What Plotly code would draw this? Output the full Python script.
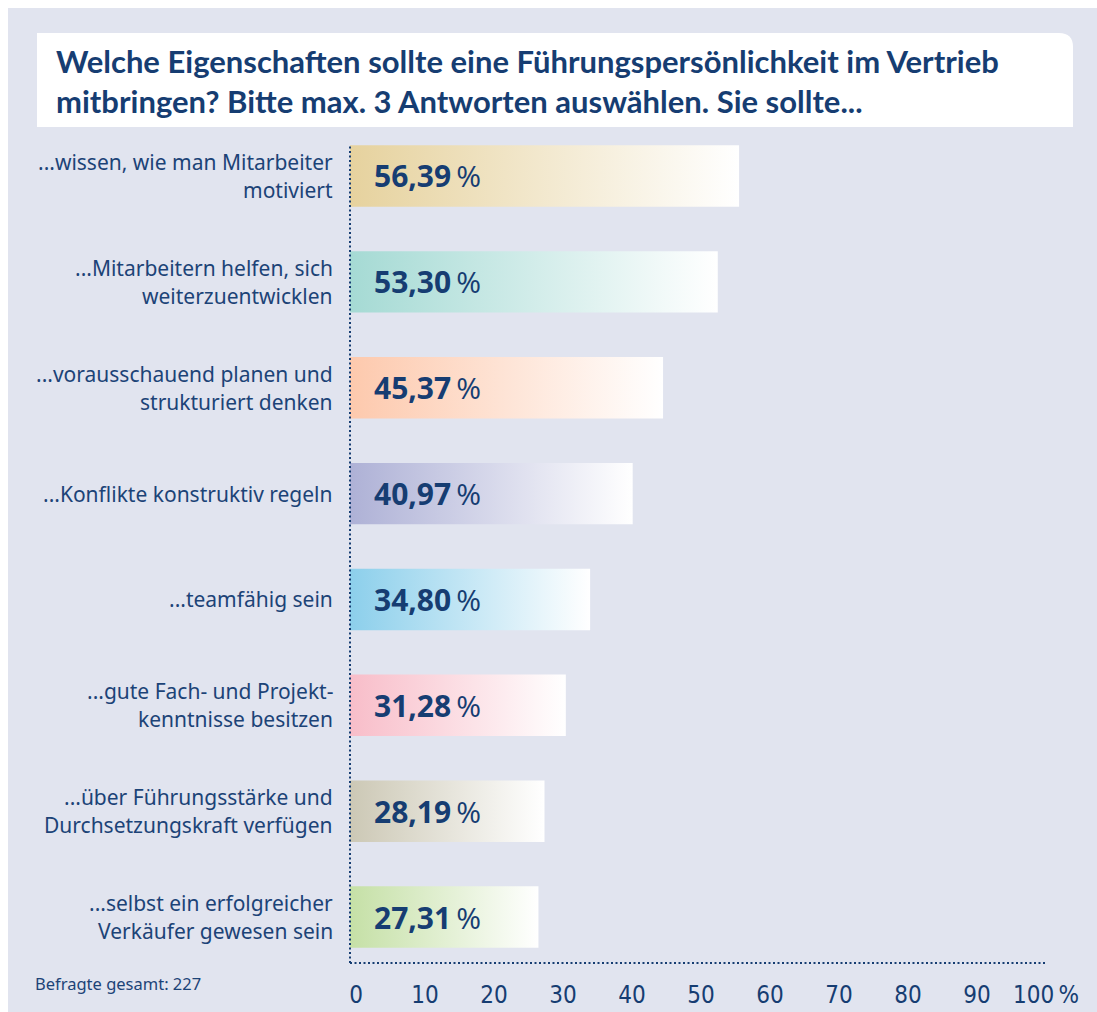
import plotly.graph_objects as go

# ---------------- data ----------------
categories = [
    "...wissen, wie man Mitarbeiter<br>motiviert",
    "...Mitarbeitern helfen, sich<br>weiterzuentwicklen",
    "...vorausschauend planen und<br>strukturiert denken",
    "...Konflikte konstruktiv regeln",
    "...teamfähig sein",
    "...gute Fach- und Projekt-<br>kenntnisse besitzen",
    "...über Führungsstärke und<br>Durchsetzungskraft verfügen",
    "...selbst ein erfolgreicher<br>Verkäufer gewesen sein",
]
values = [56.39, 53.30, 45.37, 40.97, 34.80, 31.28, 28.19, 27.31]
value_labels = ["56,39", "53,30", "45,37", "40,97", "34,80", "31,28", "28,19", "27,31"]
bar_colors = ["#e6d29e", "#a5dad4", "#fdc9ad", "#aeb1d6", "#8ccfeb", "#f8bdc9", "#ccc8b5", "#c5e0a6"]
x_tickvals = [0, 10, 20, 30, 40, 50, 60, 70, 80, 90, 100]
x_ticktext = ["0", "10", "20", "30", "40", "50", "60", "70", "80", "90", "100\u2009%"]
title_text = ("Welche Eigenschaften sollte eine Führungspersönlichkeit im Vertrieb<br>"
              "mitbringen? Bitte max. 3 Antworten auswählen. Sie sollte...")
note_text = "Befragte gesamt: 227"

# ---------------- layout geometry ----------------
W, H = 1097, 1012
ML, MR, MT, MB = 350, 57, 140, 49
PW, PH = W - ML - MR, H - MT - MB

def px(xp):
    return (xp - ML) / PW

def py(yp):
    return (H - MB - yp) / PH

NAVY = "#163d72"
TEXT = "#1c4377"
BG = "#e1e4ef"
n = len(categories)
half = 0.29

fig = go.Figure()

for i, (v, c) in enumerate(zip(values, bar_colors)):
    yc = n - 1 - i
    fig.add_trace(go.Scatter(
        x=[0, v, v, 0, 0],
        y=[yc - half, yc - half, yc + half, yc + half, yc - half],
        mode="none",
        fill="toself",
        fillgradient=dict(type="horizontal", colorscale=[[0, c], [1, "#ffffff"]]),
        hoverinfo="skip",
        showlegend=False,
    ))

annotations = []
# value labels
for i, lab in enumerate(value_labels):
    yc = n - 1 - i
    annotations.append(dict(
        x=0, y=yc, xref="x", yref="y", xanchor="left", yanchor="middle",
        xshift=22, showarrow=False,
        text=f"<b>{lab}</b>\u2009%",
        font=dict(family="Open Sans, Noto Sans, sans-serif", size=30, color=NAVY),
    ))
# category labels (one annotation per line for line spacing control)
line_gap = 28
for i, cat in enumerate(categories):
    yc = n - 1 - i
    lines = cat.split("<br>")
    k = len(lines)
    for j, ln in enumerate(lines):
        off = ((k - 1) / 2 - j) * line_gap
        annotations.append(dict(
            x=px(335), y=yc, xref="paper", yref="y", xanchor="right", yanchor="middle",
            yshift=off, showarrow=False, text=ln,
            font=dict(family="Noto Sans, sans-serif", size=21, color=TEXT),
        ))
# title
annotations.append(dict(
    x=px(54), y=py(40), xref="paper", yref="paper", xanchor="left", yanchor="top",
    showarrow=False, align="left", text=f"<b>{title_text}</b>",
    font=dict(family="Lato, sans-serif", size=31, color=NAVY),
))
# note
annotations.append(dict(
    x=px(33), y=py(983), xref="paper", yref="paper", xanchor="left", yanchor="middle",
    showarrow=False, text=note_text,
    font=dict(family="Noto Sans, sans-serif", size=16.5, color=TEXT),
))

r = 14
shapes = [
    # background panel
    dict(type="rect", xref="paper", yref="paper", x0=px(8), x1=px(W), y0=py(H), y1=py(8),
         fillcolor=BG, line=dict(width=0), layer="below"),
    # title box with rounded top-right corner
    dict(type="path", xref="paper", yref="paper",
         path=(f"M {px(37)},{py(127)} L {px(37)},{py(33)} L {px(1073 - r)},{py(33)} "
               f"Q {px(1073)},{py(33)} {px(1073)},{py(33 + r)} L {px(1073)},{py(127)} Z"),
         fillcolor="#ffffff", line=dict(width=0), layer="below"),
    # dotted axes
    dict(type="line", xref="paper", yref="paper", x0=0, x1=0, y0=0, y1=py(145),
         line=dict(color=NAVY, width=2, dash="2px,2.5px")),
    dict(type="line", xref="paper", yref="paper", x0=0, x1=px(1045), y0=0, y1=0,
         line=dict(color=NAVY, width=2, dash="2px,2.5px")),
]

fig.update_layout(
    width=W, height=H, autosize=False,
    margin=dict(l=ML, r=MR, t=MT, b=MB, autoexpand=False),
    paper_bgcolor="#ffffff",
    plot_bgcolor="rgba(0,0,0,0)",
    showlegend=False,
    annotations=annotations,
    shapes=shapes,
    xaxis=dict(
        range=[0, 100], showgrid=False, zeroline=False, showline=False,
        tickvals=x_tickvals, ticktext=x_ticktext, ticks="",
        ticklabelstandoff=15, ticklabelshift=6, automargin=False,
        tickfont=dict(family="Liberation Sans Narrow, DejaVu Sans Condensed, sans-serif", size=24, color=NAVY),
        fixedrange=True,
    ),
    yaxis=dict(
        range=[-0.434, n - 1 + 0.34], showgrid=False, zeroline=False, showline=False,
        showticklabels=False, ticks="", fixedrange=True, automargin=False,
    ),
)

fig.write_html(
    "out.html",
    config={"responsive": False, "displayModeBar": False},
    post_script="document.body.style.margin='0';document.body.style.overflow='hidden';",
)
